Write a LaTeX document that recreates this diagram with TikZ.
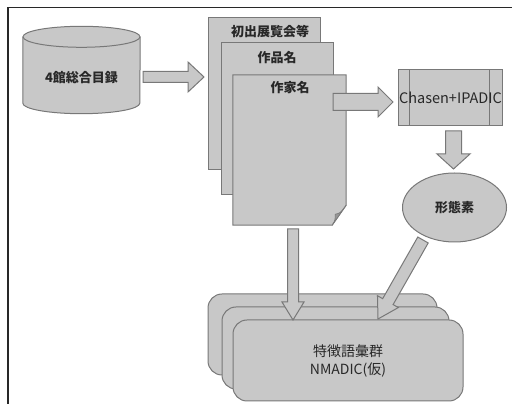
\documentclass[tikz,border=0pt]{standalone}
\usepackage{fontspec}
\newfontfamily\jp{Noto Sans CJK JP}
\usetikzlibrary{calc,shapes.geometric}

\definecolor{boxfill}{RGB}{200,200,200}
\definecolor{boxline}{RGB}{120,120,120}
\definecolor{flapfill}{RGB}{150,150,150}
\definecolor{labeltext}{RGB}{40,40,40}

\tikzset{
  shapebox/.style={draw=boxline, fill=boxfill, line width=1pt},
  arrowbox/.style={draw=boxline, fill=boxfill, line width=1pt, line join=miter},
  jlabel/.style={font=\jp\bfseries\fontsize{13}{15}\selectfont, text=labeltext, inner sep=0pt},
}

% block arrow from #1 to #2: shaft half width #3, head half width #4, head length #5
\newcommand{\blockarrow}[5]{%
  \coordinate (bhead) at ($(#2)!#5!(#1)$);
  \draw[arrowbox]
    ($(#1)!#3!90:(#2)$) -- ($(bhead)!#3!-90:(#1)$) -- ($(bhead)!#4!-90:(#1)$)
    -- (#2) -- ($(bhead)!#4!90:(#1)$) -- ($(bhead)!#3!90:(#1)$)
    -- ($(#1)!#3!-90:(#2)$) -- cycle;
}

\begin{document}
\begin{tikzpicture}[x=1pt,y=1pt]
\useasboundingbox (0,0) rectangle (512,404);

% frame (top and left edges)
\draw[line width=1.5pt, color={rgb,255:red,40;green,40;blue,40}]
  (8,0) -- (8,396.5) -- (512,396.5);

% catalogue database (cylinder)
\node[minimum width=117pt, minimum height=66pt, inner sep=0pt] (db) at (81.5,334) {};
\fill[boxfill] (db.south west) arc[start angle=180, end angle=360, x radius=58.5, y radius=10.5]
  -- (db.north east) -- (db.north west) -- cycle;
\draw[boxline, line width=1pt] (db.north west) -- (db.south west)
  arc[start angle=180, end angle=360, x radius=58.5, y radius=10.5] -- (db.north east);
\draw[shapebox] (db.north) ellipse[x radius=58.5, y radius=10.5];
\node[jlabel] (dbt) at (81.5,326) {4館総合目録};

% stacked documents
\node[shapebox, minimum width=112pt, minimum height=152pt, inner sep=0pt] (doc1) at (264,310) {};
\node[jlabel] (doc1t) at (270,372) {初出展覧会等};
\node[shapebox, minimum width=112pt, minimum height=152pt, inner sep=0pt] (doc2) at (277,285) {};
\node[jlabel] (doc2t) at (277,346) {作品名};
\node[minimum width=113pt, minimum height=150pt, inner sep=0pt] (doc3) at (289.5,254) {};
\draw[shapebox] (doc3.north west) -- (doc3.north east) -- ($(doc3.south east)+(0,20)$)
  -- ($(doc3.south east)+(-14,0)$) -- (doc3.south west) -- cycle;
\draw[draw=boxline, fill=flapfill, line width=0.6pt, line join=round]
  ($(doc3.south east)+(0,20)$) .. controls ($(doc3.south east)+(-6,12)$) .. ($(doc3.south east)+(-11,11)$)
  .. controls ($(doc3.south east)+(-11,5)$) .. ($(doc3.south east)+(-14,0)$) -- cycle;
\node[jlabel] (doc3t) at (290,316) {作家名};

% morphological analyser
\node[shapebox, minimum width=104pt, minimum height=56pt, inner sep=0pt] (chasen) at (450,306) {};
\draw[boxline, line width=1pt] ($(chasen.north west)+(12,0)$) -- ($(chasen.south west)+(12,0)$);
\draw[boxline, line width=1pt] ($(chasen.north east)+(-13,0)$) -- ($(chasen.south east)+(-13,0)$);
\node[font=\jp\fontsize{14.5}{16}\selectfont, text=labeltext, inner sep=0pt] (chasent) at (450.5,306) {Chasen+IPADIC};

% morphemes
\node[shapebox, ellipse, minimum width=104pt, minimum height=69pt, inner sep=0pt,
      jlabel] (morph) at (454.5,196.5) {形態素};

% stacked result sets
\node[shapebox, rounded corners=14pt, minimum width=229pt, minimum height=81pt] (r1) at (322.5,69.5) {};
\node[shapebox, rounded corners=14pt, minimum width=227pt, minimum height=82pt] (r2) at (335.5,56) {};
\node[shapebox, rounded corners=14pt, minimum width=230pt, minimum height=81pt,
      align=center, font=\jp\fontsize{14}{18}\selectfont, text=labeltext] (r3) at (348,43.5)
      {特徴語彙群\\NMADIC(仮)};

% arrows
\coordinate (a1s) at (143,327);   \coordinate (a1e) at (204,327);
\coordinate (a2s) at (333,302);   \coordinate (a2e) at (393,302);
\coordinate (a3s) at (453.5,273); \coordinate (a3e) at (453.5,235);
\coordinate (a4s) at (293,175);   \coordinate (a4e) at (293,84);
\coordinate (a5s) at (423,164);   \coordinate (a5e) at (378,85);
\blockarrow{a1s}{a1e}{5.5pt}{15pt}{16pt}
\blockarrow{a2s}{a2e}{8.5pt}{15pt}{15pt}
\blockarrow{a3s}{a3e}{8pt}{16.5pt}{15pt}
\blockarrow{a4s}{a4e}{5.5pt}{11pt}{18pt}
\blockarrow{a5s}{a5e}{6pt}{12pt}{20pt}
\end{tikzpicture}
\end{document}
